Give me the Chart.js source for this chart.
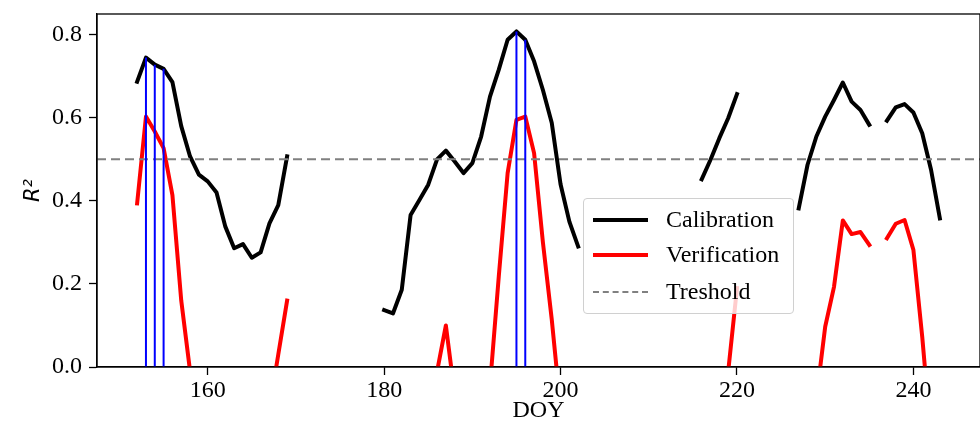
<!DOCTYPE html>
<html>
<head>
<meta charset="utf-8">
<script src="https://cdn.jsdelivr.net/npm/chart.js@4.4.1/dist/chart.umd.min.js"></script>
<style>
  body { margin: 0; background: #fff; }
  #wrap { position: relative; width: 980px; height: 427px; }
  #legend {
    position: absolute; left: 583px; top: 198px; width: 209px; height: 114px;
    border: 1px solid #d0d0d0; border-radius: 4px; background: rgba(255,255,255,0.8);
    font-family: 'Liberation Serif', serif; font-size: 24px; color: #000;
  }
  .row { position: absolute; left: 0; height: 30px; line-height: 30px; }
  .swatch { position: absolute; left: 9px; top: 14px; width: 55px; }
  .lbl { position: absolute; left: 82px; top: 0; white-space: nowrap; }
</style>
</head>
<body>
<div id="wrap">
  <canvas id="c"></canvas>
  <div id="legend">
    <div class="row" style="top:5px"><div class="swatch" style="border-top:4px solid #000"></div><span class="lbl">Calibration</span></div>
    <div class="row" style="top:40px"><div class="swatch" style="border-top:4px solid #ff0000"></div><span class="lbl">Verification</span></div>
    <div class="row" style="top:77px"><div class="swatch" style="top:15px;border-top:2px dashed #808080"></div><span class="lbl">Treshold</span></div>
  </div>
</div>
<script>
const doy = [];
for (let d = 152; d <= 243; d++) doy.push(d);

const calibration = [
  0.687, 0.745, 0.728, 0.718, 0.686, 0.58, 0.507, 0.463, 0.447, 0.42,   // 152-161
  0.338, 0.286, 0.296, 0.263, 0.276, 0.346, 0.39, 0.507,                // 162-169
  null, null, null, null, null, null, null, null, null, null,           // 170-179
  0.137, 0.129, 0.186, 0.366, 0.402, 0.439, 0.50, 0.521, 0.495, 0.467,  // 180-189
  0.491, 0.555, 0.651, 0.716, 0.788, 0.808, 0.788, 0.736, 0.667, 0.588, // 190-199
  0.44, 0.35, 0.29,                                                     // 200-202
  null, null, null, null, null, null, null, null, null, null, null, null, null, // 203-215
  0.452, 0.499, 0.551, 0.599, 0.657,                                    // 216-220
  null, null, null, null, null, null,                                   // 221-226
  0.382, 0.487, 0.555, 0.603, 0.643, 0.685, 0.639, 0.619, 0.583,        // 227-235
  null,                                                                 // 236
  0.593, 0.625, 0.633, 0.613, 0.563, 0.475, 0.358                       // 237-243
];

const verification = [
  0.394, 0.603, 0.567, 0.527, 0.414, 0.16, -0.01,                       // 152-158
  null, null, null, null, null, null, null, null,                       // 159-166
  -0.1, 0.03, 0.16,                                                     // 167-169
  null, null, null, null, null, null, null, null, null, null, null, null, null, null, null, null, // 170-185
  -0.011, 0.10, -0.067,                                                 // 186-188
  null, null, null,                                                     // 189-191
  -0.045, 0.219, 0.467, 0.595, 0.603, 0.515, 0.30, 0.115, -0.10,        // 192-200
  null, null, null, null, null, null, null, null, null, null, null, null, null, null, null, null, null, null, // 201-218
  -0.012, 0.19,                                                         // 219-220
  null, null, null, null, null, null, null, null,                       // 221-228
  -0.076, 0.097, 0.193, 0.353, 0.32, 0.325, 0.294,                      // 229-235
  null,                                                                 // 236
  0.31, 0.345, 0.354, 0.282, 0.073, -0.17, null                         // 237-243
];

const threshold = 0.5;
const markedDays = [153, 154, 155, 195, 196];
const xTicks = [160, 180, 200, 220, 240];
const yTicks = [0.0, 0.2, 0.4, 0.6, 0.8];
const xMin = 147.45, xMax = 247.55, yMin = 0, yMax = 0.85;

const pts = vals => doy.map((d, i) => ({ x: d, y: vals[i] }));

const blueSets = markedDays.map(d => ({
  label: 'day ' + d,
  data: [{ x: d, y: 0 }, { x: d, y: calibration[doy.indexOf(d)] }],
  borderColor: '#0000ff', borderWidth: 2, pointRadius: 0, order: 0, clip: 0
}));

const frame = {
  id: 'frame',
  afterDraw(chart) {
    const { ctx, chartArea: a } = chart;
    ctx.save();
    ctx.strokeStyle = '#000';
    ctx.lineWidth = 1.3;
    ctx.strokeRect(a.left, a.top, a.right - a.left, a.bottom - a.top);
    ctx.restore();
  }
};

const serif = 'Liberation Serif';

new Chart(document.getElementById('c'), {
  type: 'line',
  data: {
    datasets: [
      { label: 'Calibration', data: pts(calibration), borderColor: '#000', borderWidth: 4,
        pointRadius: 0, order: 3, clip: 0, borderCapStyle: 'square', borderJoinStyle: 'round' },
      { label: 'Verification', data: pts(verification), borderColor: '#ff0000', borderWidth: 4,
        pointRadius: 0, order: 2, clip: 0, borderCapStyle: 'square', borderJoinStyle: 'round' },
      { label: 'Treshold', data: [{ x: xMin, y: threshold }, { x: xMax, y: threshold }],
        borderColor: '#808080', borderWidth: 2, borderDash: [9, 5], pointRadius: 0, order: 1, clip: 0 },
      ...blueSets
    ]
  },
  options: {
    responsive: true,
    maintainAspectRatio: false,
    animation: false,
    layout: { padding: { left: 0, right: 0, top: 14, bottom: 0 } },
    plugins: { legend: { display: false }, tooltip: { enabled: false } },
    scales: {
      x: {
        type: 'linear', min: xMin, max: xMax,
        afterFit: s => { s.height = 60; s.paddingLeft = 0; s.paddingRight = 0; },
        afterBuildTicks: s => { s.ticks = xTicks.map(v => ({ value: v })); },
        grid: { drawOnChartArea: false, tickLength: 8, tickColor: '#000', tickWidth: 1.3 },
        border: { color: '#000', width: 1.3 },
        ticks: { color: '#000', padding: 1, font: { family: serif, size: 24 }, maxRotation: 0,
                 callback: v => String(v) },
        title: { display: true, text: 'DOY', color: '#000', font: { family: serif, size: 24 },
                 padding: { top: 0, bottom: 2 } }
      },
      y: {
        min: yMin, max: yMax,
        afterFit: s => { s.width = 97; s.paddingTop = 0; s.paddingBottom = 0; },
        afterBuildTicks: s => { s.ticks = yTicks.map(v => ({ value: v })); },
        grid: { drawOnChartArea: false, tickLength: 8, tickColor: '#000', tickWidth: 1.3 },
        border: { color: '#000', width: 1.3 },
        ticks: { color: '#000', padding: 7, font: { family: serif, size: 24 },
                 callback: v => v.toFixed(1) },
        title: { display: true, text: 'R²', color: '#000',
                 font: { family: 'DejaVu Sans', size: 21, style: 'italic' },
                 padding: { top: 21, bottom: 0 } }
      }
    }
  },
  plugins: [frame]
});
</script>
</body>
</html>
